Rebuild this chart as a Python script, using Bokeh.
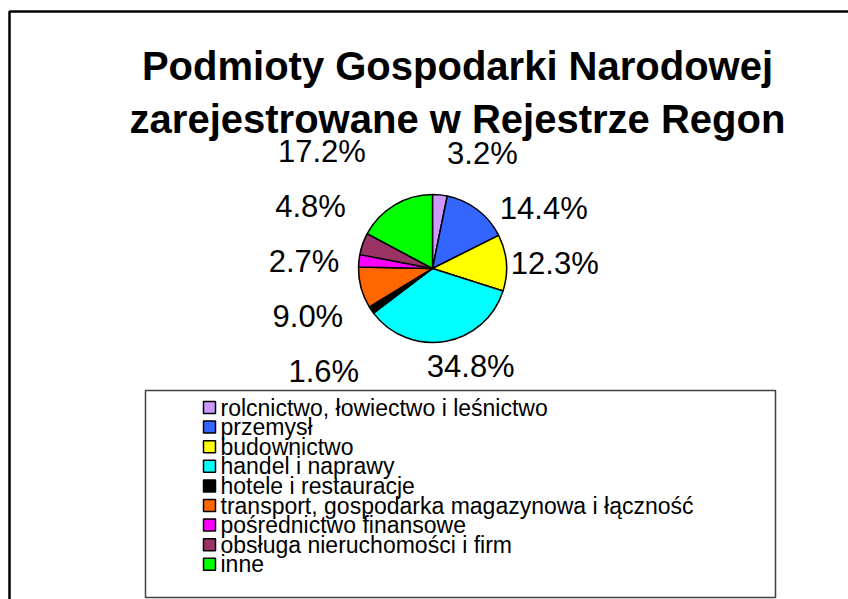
import numpy as np
from bokeh.plotting import figure
from bokeh.models import Range1d, ColumnDataSource
from bokeh.core.properties import value
from bokeh.embed import file_html
from bokeh.resources import INLINE

# ---------------- data ----------------
title_lines = ["Podmioty Gospodarki Narodowej", "zarejestrowane w Rejestrze Regon"]
categories = [
    "rolcnictwo, łowiectwo i leśnictwo",
    "przemysł",
    "budownictwo",
    "handel i naprawy",
    "hotele i restauracje",
    "transport, gospodarka magazynowa i łączność",
    "pośrednictwo finansowe",
    "obsługa nieruchomości i firm",
    "inne",
]
shares = [3.2, 14.4, 12.3, 34.8, 1.6, 9.0, 2.7, 4.8, 17.2]
colors = ["#CC99FF", "#3366FF", "#FFFF00", "#00FFFF", "#000000",
          "#FF6600", "#FF00FF", "#993366", "#00FF00"]

# ---------------- layout constants ----------------
W, H = 848, 599
CX, CY, R = 432, 268, 74
FONT = "Liberation Sans"

p = figure(width=W, height=H, x_range=Range1d(0, W), y_range=Range1d(H, 0),
           output_backend="svg", toolbar_location=None, min_border=0,
           x_axis_type=None, y_axis_type=None)
p.grid.visible = False
p.outline_line_color = None
p.background_fill_color = "white"
p.border_fill_color = "white"

# outer chart frame (runs off the right/bottom edge as in the picture)
p.quad(left=9, right=W + 30, top=11, bottom=H + 30, fill_color=None,
       line_color="black", line_width=2.5)

# title
p.text(x=[457, 457], y=[65, 118], text=title_lines, text_align="center",
       text_baseline="middle", text_font=value(FONT), text_font_style="bold",
       text_font_size="40px", text_color="black")

# ---------------- pie ----------------
vals = np.array(shares, dtype=float)
frac = vals / vals.sum()
cum = np.cumsum(frac)
prev = cum - frac
start = np.pi / 2 - 2 * np.pi * prev
end = np.pi / 2 - 2 * np.pi * cum
pie_src = ColumnDataSource(dict(start=start, end=end, color=colors, cat=categories))
p.wedge(x=CX, y=CY, radius=R, start_angle="start", end_angle="end",
        direction="clock", fill_color="color", line_color="black",
        line_width=1.5, source=pie_src)

# ---------------- data labels (outside, de-overlapped) ----------------
mid = np.pi * (prev + cum)          # clockwise from 12 o'clock
ux, uy = np.sin(mid), -np.cos(mid)  # screen directions (y down)
lab_text = [f"{v:.1f}%" for v in shares]
ROW = 55


def spread(y0, gap):
    order = list(np.argsort(y0))
    blocks = []
    for i in order:
        blocks.append([[i], y0[i]])
        while len(blocks) > 1:
            a, b = blocks[-2], blocks[-1]
            if a[1] + len(a[0]) * gap > b[1]:
                idx = a[0] + b[0]
                m = np.mean([y0[j] for j in idx])
                blocks[-2:] = [[idx, m - (len(idx) - 1) * gap / 2]]
            else:
                break
    out = {}
    for idx, top in blocks:
        for k, j in enumerate(idx):
            out[j] = top + k * gap
    return out


lx = np.zeros(len(vals)); ly = np.zeros(len(vals)); la = [""] * len(vals)
bottom = uy > 0.8
left = (~bottom) & (ux < 0)
right = (~bottom) & (ux >= 0)
for mask, sgn, A, B, NAT, align in ((left, -1, 1.26 * R, 2.26 * R, 1.0 * R, "right"),
                                    (right, 1, 1.06 * R, 1.58 * R, 1.3 * R, "left")):
    ids = np.where(mask)[0]
    ys = spread(np.array([CY + NAT * uy[i] for i in ids]), ROW)
    for k, i in enumerate(ids):
        y = ys[k]
        t = max(0.0, 1 - ((y - CY) / B) ** 2)
        lx[i] = CX + sgn * A * np.sqrt(t)
        ly[i] = y
        la[i] = align
for i in np.where(bottom)[0]:
    lx[i] = CX + (R + 34) * ux[i] + 20
    ly[i] = CY + (R + 34) * uy[i] - 8
    la[i] = "center"

lab_src = ColumnDataSource(dict(x=lx, y=ly, t=lab_text, a=la))
p.text(x="x", y="y", text="t", text_align="a", text_baseline="middle",
       text_font=value(FONT), text_font_size="31px", text_color="black",
       source=lab_src)

# ---------------- legend ----------------
p.quad(left=145, right=775, top=390, bottom=597, fill_color="white",
       line_color="#404040", line_width=1.5)
rows = 407 + 19.6 * np.arange(len(categories))
leg_src = ColumnDataSource(dict(y=rows, c=colors, t=categories))
p.rect(x=209, y="y", width=12, height=12, fill_color="c", line_color="black",
       line_width=1.5, source=leg_src)
p.text(x=220, y="y", text="t", text_align="left", text_baseline="middle",
       text_font=value(FONT), text_font_size="23px", text_color="black",
       source=leg_src)

open("out.html", "w").write(file_html(p, INLINE))
